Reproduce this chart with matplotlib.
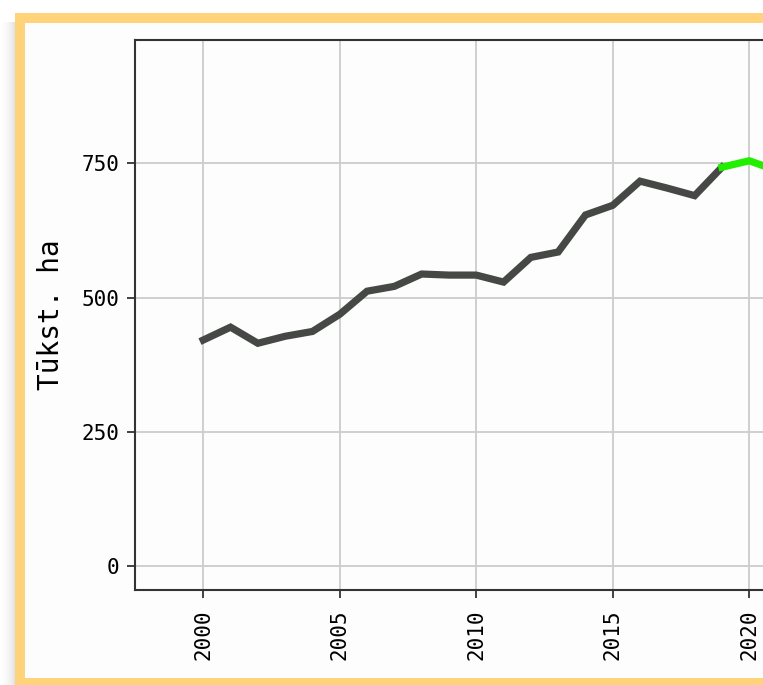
import numpy as np
import matplotlib.pyplot as plt
from matplotlib.patches import Rectangle

# data
years = [2000, 2001, 2002, 2003, 2004, 2005, 2006, 2007, 2008, 2009,
         2010, 2011, 2012, 2013, 2014, 2015, 2016, 2017, 2018, 2019]
area = [421, 445, 415, 428, 437, 469, 512, 521, 544, 542,
        542, 529, 575, 585, 654, 672, 717, 704, 690, 743]
years_fc = [2019, 2020, 2021]
area_fc = [743, 755, 737]

y_ticks = [0, 250, 500, 750]
x_ticks = [2000, 2005, 2010, 2015, 2020, 2025, 2030]

W, H = 763, 685
fig = plt.figure(figsize=(W / 100, H / 100), dpi=100)
fig.patch.set_facecolor('white')

# background: soft shadow, yellow frame, white card
bg = fig.add_axes([0, 0, 1, 1])
bg.set_xlim(0, W)
bg.set_ylim(H, 0)
bg.axis('off')
grad = np.linspace(0.0, 0.2, 15)[None, :] ** 1.5 / 0.2 ** 0.5
bg.imshow(np.repeat(grad, 2, axis=0), extent=(0, 15, H, 22), cmap='Greys',
          vmin=0, vmax=1, aspect='auto', zorder=0, interpolation='bilinear')
bg.add_patch(Rectangle((15, 13), 1000, 1000, facecolor='#ffd37a', edgecolor='none', zorder=1))
bg.add_patch(Rectangle((25, 23), 1000, 655, facecolor='#fdfdfd', edgecolor='none', zorder=2))

# main axes, scaled so the right part runs off the card like the reference
x0, x1 = 1997.5, 2030
px_per_year = 27.3
left, top, bottom = 135, 40, 590
ax = fig.add_axes([left / W, (H - bottom) / H,
                   (x1 - x0) * px_per_year / W, (bottom - top) / H])
ax.set_facecolor('none')

ax.plot(years, area, color='#464846', lw=5.2, solid_joinstyle='miter', zorder=3)
ax.plot(years_fc, area_fc, color='#22ee00', lw=5.2, solid_joinstyle='miter', zorder=3)

ax.set_xlim(x0, x1)
ax.set_ylim(-44.7, 980)
ax.set_xticks(x_ticks)
ax.set_yticks(y_ticks)
ax.grid(True, color='#cccccc', lw=1.3)
ax.set_axisbelow(True)

mono = 'DejaVu Sans Mono'
ax.tick_params(direction='out', length=6, width=1.3, color='#333333', labelsize=15)
ax.tick_params(axis='x', labelrotation=90, pad=8)
ax.tick_params(axis='y', pad=5)
for lab in ax.get_xticklabels() + ax.get_yticklabels():
    lab.set_family(mono)
for sp in ax.spines.values():
    sp.set_color('#333333')
    sp.set_linewidth(1.5)

ax.set_ylabel('Tūkst. ha', family=mono, fontsize=20, labelpad=12)

fig.savefig('out.png', dpi=100)
